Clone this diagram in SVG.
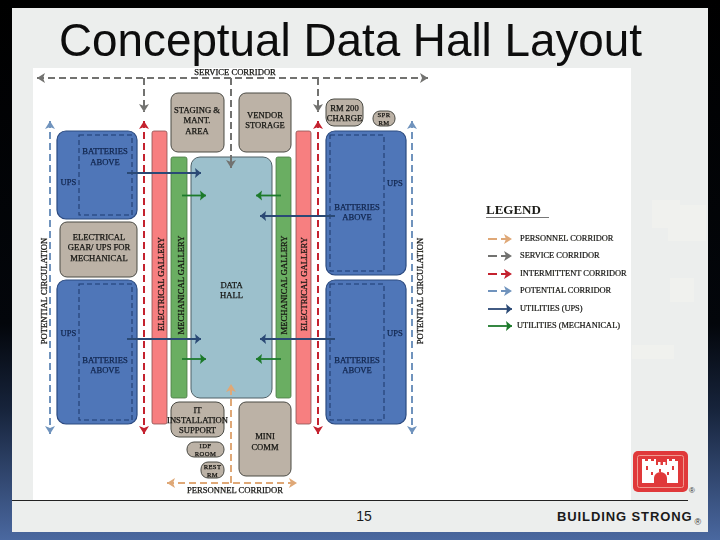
<svg xmlns="http://www.w3.org/2000/svg" width="720" height="540" viewBox="0 0 720 540">
<style>
.tan{fill:#bcb2a6;stroke:#4a4a44;stroke-width:1}
.ups{fill:#4f76b8;stroke:#2b4a80;stroke-width:1.2}
.inner{fill:none;stroke:#1f3c70;stroke-width:1.1;stroke-dasharray:5 3}
.red{fill:#f77f80;stroke:#8a5050;stroke-width:.8}
.green{fill:#6bae62;stroke:#4a7a48;stroke-width:.8}
.t{font-family:"Liberation Serif",serif;font-size:8.6px;text-anchor:middle;fill:#151512;stroke:#151512;stroke-width:.25}
.n{fill:#12264e;stroke:#12264e}
.s{font-size:6.6px;letter-spacing:.4px}
.leg{font-family:"Liberation Serif",serif;font-size:8.4px;fill:#151512;stroke:#151512;stroke-width:.2}
.c{fill:none}
.gray{stroke:#72726f;stroke-width:2;stroke-dasharray:7 4}
.rd{stroke:#c4202e;stroke-width:2;stroke-dasharray:7 4}
.bl{stroke:#6f93bd;stroke-width:2;stroke-dasharray:7 4}
.pe{stroke:#dfa877;stroke-width:2;stroke-dasharray:7 4}
.l{stroke-dasharray:9 4}
.nv{stroke:#2c4a75;stroke-width:1.8}
.gn{stroke:#1e7a2c;stroke-width:1.8}
</style>
<defs>
<linearGradient id="bg" x1="0" y1="0" x2="0" y2="1"><stop offset="0" stop-color="#000"/><stop offset=".6" stop-color="#03060b"/><stop offset=".76" stop-color="#17243c"/><stop offset="1" stop-color="#4a68a0"/></linearGradient>
<filter id="soft" x="0" y="0" width="1" height="1"><feGaussianBlur stdDeviation=".4"/></filter>
<marker id="mg" markerUnits="userSpaceOnUse" markerWidth="12" markerHeight="12" refX="9" refY="6" orient="auto-start-reverse"><path d="M1 1L9 6L1 11L3 6Z" fill="#72726f"/></marker>
<marker id="mr" markerUnits="userSpaceOnUse" markerWidth="12" markerHeight="12" refX="9" refY="6" orient="auto-start-reverse"><path d="M1 1L9 6L1 11L3 6Z" fill="#c4202e"/></marker>
<marker id="mb" markerUnits="userSpaceOnUse" markerWidth="12" markerHeight="12" refX="9" refY="6" orient="auto-start-reverse"><path d="M1 1L9 6L1 11L3 6Z" fill="#6f93bd"/></marker>
<marker id="mp" markerUnits="userSpaceOnUse" markerWidth="12" markerHeight="12" refX="9" refY="6" orient="auto-start-reverse"><path d="M1 1L9 6L1 11L3 6Z" fill="#dfa877"/></marker>
<marker id="mn" markerUnits="userSpaceOnUse" markerWidth="12" markerHeight="12" refX="9" refY="6" orient="auto-start-reverse"><path d="M3 1L9 6L3 11L4 6Z" fill="#2c4a75"/></marker>
<marker id="mv" markerUnits="userSpaceOnUse" markerWidth="12" markerHeight="12" refX="9" refY="6" orient="auto-start-reverse"><path d="M3 1L9 6L3 11L4 6Z" fill="#1e7a2c"/></marker>
</defs>
<rect width="720" height="540" fill="url(#bg)"/>
<rect x="12" y="8" width="696" height="524" fill="#eceeed"/>
<g fill="#f0f1ee"><rect x="652" y="200" width="28" height="28"/><rect x="668" y="205" width="38" height="36"/><rect x="670" y="278" width="24" height="24"/><rect x="632" y="345" width="42" height="14"/></g>
<rect x="33" y="68" width="598" height="432" fill="#fff"/>
<g filter="url(#soft)">
<text x="59" y="55.500" font-family="Liberation Sans,sans-serif" font-size="45.800px" fill="#0a0a0a">Conceptual Data Hall Layout</text>

<g id="ups-tl"><rect class="ups" x="57" y="131" width="80" height="88" rx="9"/><rect class="inner" x="79" y="135" width="53" height="80"/><text class="t n" x="105" y="154">BATTERIES</text><text class="t n" x="105" y="165">ABOVE</text><text class="t n" x="68.500" y="185">UPS</text></g>
<g id="elec-gear"><rect class="tan" x="60" y="222" width="77" height="55" rx="7"/><text class="t" x="99" y="240">ELECTRICAL</text><text class="t" x="99" y="250">GEAR/ UPS FOR</text><text class="t" x="99" y="261">MECHANICAL</text></g>
<g id="ups-bl"><rect class="ups" x="57" y="280" width="80" height="144" rx="9"/><rect class="inner" x="79" y="284" width="53" height="136"/><text class="t n" x="105" y="363">BATTERIES</text><text class="t n" x="105" y="373">ABOVE</text><text class="t n" x="68.500" y="336">UPS</text></g>
<g id="elec-l"><rect class="red" x="152" y="131" width="15" height="293" rx="2"/><text class="t" transform="translate(164,284) rotate(-90)">ELECTRICAL GALLERY</text></g>
<g id="mech-l"><rect class="green" x="171" y="157" width="16" height="241" rx="2"/><text class="t" transform="translate(184,285) rotate(-90)">MECHANICAL GALLERY</text></g>
<g id="staging"><rect class="tan" x="171" y="93" width="53" height="59" rx="7"/><text class="t" x="197" y="113">STAGING &amp;</text><text class="t" x="197" y="123">MANT.</text><text class="t" x="197" y="134">AREA</text></g>
<g id="vendor"><rect class="tan" x="239" y="93" width="52" height="59" rx="7"/><text class="t" x="265" y="118">VENDOR</text><text class="t" x="265" y="128">STORAGE</text></g>
<g id="data-hall"><rect x="191" y="157" width="81" height="241" rx="9" fill="#9cc0cc" stroke="#4f6066" stroke-width="1"/><text class="t" x="231.500" y="288">DATA</text><text class="t" x="231.500" y="298">HALL</text></g>
<g id="mech-r"><rect class="green" x="276" y="157" width="15" height="241" rx="2"/><text class="t" transform="translate(287,285) rotate(-90)">MECHANICAL GALLERY</text></g>
<g id="elec-r"><rect class="red" x="296" y="131" width="15" height="293" rx="2"/><text class="t" transform="translate(307,284) rotate(-90)">ELECTRICAL GALLERY</text></g>
<g id="ups-tr"><rect class="ups" x="326" y="131" width="80" height="144" rx="9"/><rect class="inner" x="330" y="135" width="54" height="136"/><text class="t n" x="357" y="210">BATTERIES</text><text class="t n" x="357" y="220">ABOVE</text><text class="t n" x="395" y="186">UPS</text></g>
<g id="ups-br"><rect class="ups" x="326" y="280" width="80" height="144" rx="9"/><rect class="inner" x="330" y="284" width="54" height="136"/><text class="t n" x="357" y="363">BATTERIES</text><text class="t n" x="357" y="373">ABOVE</text><text class="t n" x="395" y="336">UPS</text></g>
<g id="rm200"><rect class="tan" x="326" y="99" width="37" height="27" rx="8"/><text class="t" x="344.500" y="111">RM 200</text><text class="t" x="344.500" y="121">CHARGE</text></g>
<g id="spr"><rect class="tan" x="373" y="111" width="22" height="15" rx="7"/><text class="t s" x="384" y="116.800">SPR</text><text class="t s" x="384" y="124.600">RM</text></g>
<g id="it"><rect class="tan" x="171" y="402" width="53" height="35" rx="8"/><text class="t" x="197.500" y="413">IT</text><text class="t" x="197.500" y="423">INSTALLATION</text><text class="t" x="197.500" y="433">SUPPORT</text></g>
<g id="idf"><rect class="tan" x="187" y="442" width="37" height="15" rx="7"/><text class="t s" x="205.500" y="448.400">IDF</text><text class="t s" x="205.500" y="456.200">ROOM</text></g>
<g id="rest"><rect class="tan" x="201" y="462" width="23" height="16" rx="7"/><text class="t s" x="212.500" y="469">REST</text><text class="t s" x="212.500" y="477">RM</text></g>
<g id="mini"><rect class="tan" x="239" y="402" width="52" height="74" rx="7"/><text class="t" x="265" y="439">MINI</text><text class="t" x="265" y="450">COMM</text></g>

<g id="connectors">
<path class="c gray" d="M37 78H428" marker-start="url(#mg)" marker-end="url(#mg)"/>
<path class="c gray" d="M144 78V112" marker-end="url(#mg)"/>
<path class="c gray" d="M231 78V168" marker-end="url(#mg)"/>
<path class="c gray" d="M318 78V112" marker-end="url(#mg)"/>
<path class="c rd" d="M144 121V434" marker-start="url(#mr)" marker-end="url(#mr)"/>
<path class="c rd" d="M318 121V434" marker-start="url(#mr)" marker-end="url(#mr)"/>
<path class="c bl" d="M50 121V434" marker-start="url(#mb)" marker-end="url(#mb)"/>
<path class="c bl" d="M412 121V434" marker-start="url(#mb)" marker-end="url(#mb)"/>
<path class="c pe" d="M167 483H297" marker-start="url(#mp)" marker-end="url(#mp)"/>
<path class="c pe" d="M231 483V384" marker-end="url(#mp)"/>
<path class="c nv" d="M127 173H201" marker-end="url(#mn)"/>
<path class="c gn" d="M182 195.500H206" marker-end="url(#mv)"/>
<path class="c gn" d="M281 195.500H256" marker-end="url(#mv)"/>
<path class="c nv" d="M335 216H260" marker-end="url(#mn)"/>
<path class="c nv" d="M127 339H201" marker-end="url(#mn)"/>
<path class="c gn" d="M182 359H206" marker-end="url(#mv)"/>
<path class="c nv" d="M335 339H260" marker-end="url(#mn)"/>
<path class="c gn" d="M281 359H256" marker-end="url(#mv)"/>
</g>

<text class="t" x="235" y="75">SERVICE CORRIDOR</text>
<text class="t" x="235" y="492.500">PERSONNEL CORRIDOR</text>
<text class="t" transform="translate(47,291) rotate(-90)">POTENTIAL CIRCULATION</text>
<text class="t" transform="translate(423,291) rotate(-90)">POTENTIAL CIRCULATION</text>

<g id="legend">
<text x="486" y="214" font-family="Liberation Serif,serif" font-weight="bold" font-size="13px" fill="#1c1c18">LEGEND</text>
<path d="M486 217.500H549" stroke="#777" stroke-width="1"/>
<path class="c pe l" d="M488 239H512" marker-end="url(#mp)"/>
<path class="c gray l" d="M488 256H512" marker-end="url(#mg)"/>
<path class="c rd l" d="M488 274H512" marker-end="url(#mr)"/>
<path class="c bl l" d="M488 291H512" marker-end="url(#mb)"/>
<path class="c nv" d="M488 309H512" marker-end="url(#mn)"/>
<path class="c gn" d="M488 326H512" marker-end="url(#mv)"/>
<text class="leg" x="520" y="241">PERSONNEL CORRIDOR</text>
<text class="leg" x="520" y="258">SERVICE CORRIDOR</text>
<text class="leg" x="520" y="276">INTERMITTENT CORRIDOR</text>
<text class="leg" x="520" y="293">POTENTIAL CORRIDOR</text>
<text class="leg" x="520" y="311">UTILITIES (UPS)</text>
<text class="leg" x="517" y="328">UTILITIES (MECHANICAL)</text>
</g>
</g>

<g id="footer">
<path d="M12 500.500H688" stroke="#222" stroke-width="1"/>
<text x="364" y="521" font-family="Liberation Sans,sans-serif" font-size="14px" text-anchor="middle" fill="#1a1a1a">15</text>
<text x="557" y="521" font-family="Liberation Sans,sans-serif" font-weight="bold" font-size="13px" letter-spacing=".9" fill="#1a1a1a">BUILDING STRONG</text>
<text x="694.500" y="525" font-family="Liberation Sans,sans-serif" font-size="9px" fill="#333">®</text>
<text x="689" y="493" font-family="Liberation Sans,sans-serif" font-size="8px" fill="#333">®</text>
</g>
<g id="logo">
<rect x="633" y="451" width="55" height="41" rx="5" fill="#e0393a"/>
<rect x="637.500" y="455.500" width="46" height="32" rx="2" fill="none" stroke="#f09a90" stroke-width="1"/>
<path d="M642 483V459H645V461H648V459H651V461H654V459H656V465H658V462H660.500V465H663V462H665.500V465H667V459H669V461H672V459H675V461H678V459H678V483H667V478A6.500 6 0 0 0 654 478V483Z" fill="#fff"/>
<g fill="#e0393a"><rect x="646" y="466" width="2" height="4"/><rect x="672" y="466" width="2" height="4"/><rect x="659" y="469" width="2" height="3"/><rect x="651" y="472" width="2" height="3"/><rect x="667" y="472" width="2" height="3"/></g>
</g>
</svg>
